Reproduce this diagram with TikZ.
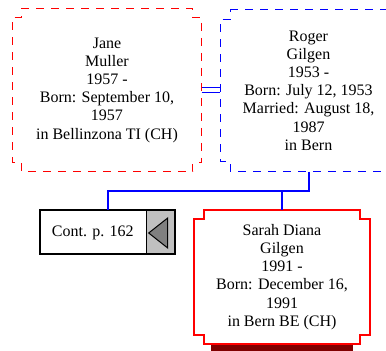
\documentclass[tikz,border=0pt]{standalone}
\usepackage{fontspec}
\setmainfont{Liberation Serif}
\usetikzlibrary{calc}
\definecolor{shadowred}{RGB}{128,0,0}
\definecolor{contgrey}{RGB}{192,192,192}
\definecolor{arrowgrey}{RGB}{128,128,128}
\definecolor{pred}{RGB}{255,0,0}
\definecolor{pblue}{RGB}{0,0,255}
\newcommand\notchpath[3]{%
  \draw[#3] ($(#1.north west)+(#2,0)$) -- ($(#1.north east)+(-#2,0)$) -- ($(#1.north east)+(-#2,#2)$) -- ($(#1.north east)+(0,#2)$) -- ($(#1.south east)+(0,-#2)$) -- ($(#1.south east)+(-#2,-#2)$) -- ($(#1.south east)+(-#2,0)$) -- ($(#1.south west)+(#2,0)$) -- ($(#1.south west)+(#2,-#2)$) -- ($(#1.south west)+(0,-#2)$) -- ($(#1.north west)+(0,#2)$) -- ($(#1.north west)+(#2,#2)$) -- cycle;}
\begin{document}
\begin{tikzpicture}[x=1pt,y=-1pt,
  txt/.style={font=\fontsize{16}{18.2}\selectfont, align=center, inner sep=0pt},
  femdash/.style={color=pred, line width=1pt, dash pattern=on 8pt off 7pt},
  maledash/.style={color=pblue, line width=1pt, dash pattern=on 8pt off 7pt},
  femsolid/.style={color=pred, line width=2pt},
  conn/.style={color=pblue, line width=2pt},
  marr/.style={color=pblue, line width=1pt}]
\useasboundingbox (0,0) rectangle (386,351);
\begin{scope}
\clip (0,0) rectangle (386,351);
% persons
\node[txt, minimum width=189, minimum height=163] (jane) at (107,90)
  {Jane\\Muller\\1957 -\\Born: September 10,\\1957\\in Bellinzona TI (CH)};
\node[txt, minimum width=176, minimum height=162] (roger) at (308.5,90.5)
  {Roger\\Gilgen\\1953 -\\Born: July 12, 1953\\Married: August 18,\\1987\\in Bern};
\node[txt, minimum width=175, minimum height=134] (sarah) at (282,277)
  {Sarah Diana\\Gilgen\\1991 -\\Born: December 16,\\1991\\in Bern BE (CH)};
\notchpath{jane}{9}{femdash}
\notchpath{roger}{10}{maledash}
% shadow
\fill[shadowred] ($(sarah.south west)+(16.5,0)$) rectangle ($(sarah.south east)+(-16.5,8)$);
\notchpath{sarah}{9.5}{femsolid}
% marriage
\draw[marr] ([yshift=2.5pt]jane.east) -- ([yshift=2.5pt]jane.east -| roger.west);
\draw[marr] ([yshift=-2.5pt]jane.east) -- ([yshift=-2.5pt]jane.east -| roger.west);
% cont box
\node[inner sep=0pt, minimum width=135, minimum height=44] (cont) at (107.5,232) {};
\fill[contgrey] ($(cont.north east)+(-29,0)$) rectangle (cont.south east);
\draw[black, line width=1pt] ($(cont.north east)+(-29,0)$) -- ($(cont.south east)+(-29,0)$);
\draw[black, line width=2pt] (cont.north west) rectangle (cont.south east);
\draw[black, fill=arrowgrey, line width=1pt] ($(cont.east)+(-26.5,1)$) -- ($(cont.east)+(-7.5,-14)$) -- ($(cont.east)+(-7.5,16)$) -- cycle;
\node[txt] (conttxt) at ($(cont.west)+(53,0.5)$) {Cont. p. 162};
% descent
\coordinate (bar) at ($(roger.south)+(0,19)$);
\draw[conn] (roger.south) -- (bar) -| (cont.north);
\draw[conn] (bar -| sarah.north) -- (sarah.north);
\end{scope}
\end{tikzpicture}
\end{document}
